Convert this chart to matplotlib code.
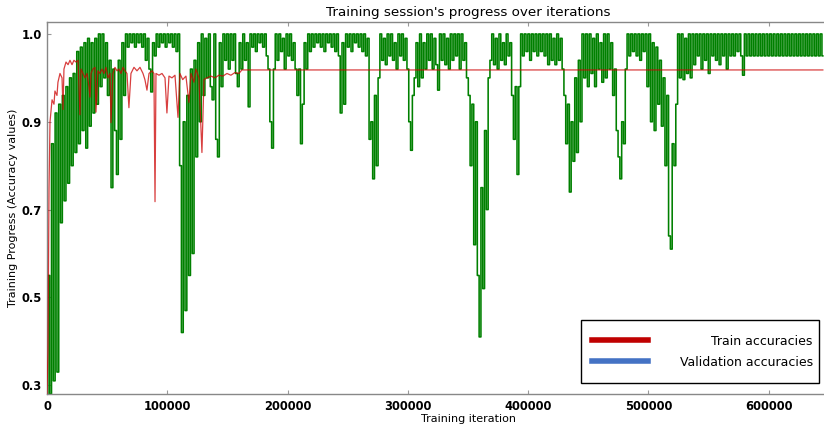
import numpy as np
import matplotlib
matplotlib.use("Agg")
import matplotlib.pyplot as plt
from matplotlib.lines import Line2D

# Per-step batch accuracy, logged every 1500 training iterations
step_interval = 1500
batch_acc = [
    0.26, 0.55, 0.28, 0.85, 0.31, 0.91, 0.33, 0.92, 0.67, 0.93,
    0.72, 0.94, 0.76, 0.95, 0.80, 0.955, 0.83, 0.98, 0.85, 0.985,
    0.88, 0.99, 0.84, 0.995, 0.89, 0.99, 0.91, 0.995, 0.92, 1.0,
    0.94, 1.0, 0.95, 0.99, 0.93, 0.97, 0.75, 0.96, 0.88, 0.78,
    0.97, 0.86, 0.99, 0.93, 1.0, 0.985, 1.0, 0.99, 1.0, 0.985,
    1.0, 0.99, 1.0, 0.985, 1.0, 0.97, 0.995, 0.96, 0.934, 0.99,
    0.975, 1.0, 0.985, 1.0, 0.99, 1.0, 0.985, 1.0, 0.99, 1.0,
    0.985, 1.0, 0.98, 1.0, 0.80, 0.42, 0.90, 0.47, 0.93, 0.55,
    0.96, 0.60, 0.97, 0.82, 0.99, 0.90, 1.0, 0.93, 0.995, 0.95,
    1.0, 0.94, 0.925, 1.0, 0.86, 0.82, 0.99, 0.94, 1.0, 0.97,
    1.0, 0.96, 1.0, 0.97, 1.0, 0.955, 0.94, 0.99, 0.96, 1.0,
    0.97, 0.99, 0.917, 1.0, 0.985, 1.0, 0.98, 1.0, 0.99, 1.0,
    0.985, 1.0, 0.975, 0.96, 0.90, 0.84, 0.96, 1.0, 0.97, 1.0,
    0.98, 0.995, 0.96, 1.0, 0.975, 1.0, 0.97, 0.99, 0.96, 0.93,
    0.96, 0.85, 0.92, 0.99, 0.96, 1.0, 0.98, 1.0, 0.985, 1.0,
    0.99, 1.0, 0.985, 1.0, 0.98, 1.0, 0.99, 1.0, 0.985, 1.0,
    0.98, 1.0, 0.975, 0.91, 0.99, 0.92, 1.0, 0.985, 1.0, 0.98,
    1.0, 0.99, 1.0, 0.985, 1.0, 0.98, 1.0, 0.975, 0.995, 0.86,
    0.90, 0.77, 0.93, 0.80, 0.95, 1.0, 0.97, 0.995, 0.965, 1.0,
    0.975, 1.0, 0.97, 0.99, 0.96, 1.0, 0.975, 1.0, 0.97, 0.995,
    0.96, 0.90, 0.835, 0.93, 0.95, 0.99, 0.94, 1.0, 0.95, 0.99,
    0.96, 1.0, 0.97, 1.0, 0.96, 0.995, 0.965, 0.936, 1.0, 0.97,
    1.0, 0.965, 0.995, 0.96, 1.0, 0.97, 1.0, 0.975, 1.0, 0.96,
    1.0, 0.97, 0.99, 0.95, 0.93, 0.80, 0.92, 0.62, 0.90, 0.55,
    0.41, 0.75, 0.52, 0.88, 0.70, 0.95, 0.97, 1.0, 0.965, 0.995,
    0.96, 1.0, 0.97, 0.99, 0.965, 1.0, 0.975, 0.99, 0.93, 0.86,
    0.94, 0.78, 0.94, 1.0, 0.975, 1.0, 0.98, 1.0, 0.97, 1.0,
    0.98, 1.0, 0.975, 1.0, 0.98, 1.0, 0.975, 1.0, 0.965, 1.0,
    0.97, 0.995, 0.965, 1.0, 0.97, 0.995, 0.96, 0.93, 0.85, 0.92,
    0.74, 0.90, 0.81, 0.95, 0.83, 0.97, 0.90, 1.0, 0.95, 1.0,
    0.94, 1.0, 0.955, 0.995, 0.94, 1.0, 0.96, 0.99, 0.945, 1.0,
    0.95, 1.0, 0.96, 0.99, 0.93, 0.96, 0.88, 0.82, 0.77, 0.90,
    0.85, 0.96, 1.0, 0.975, 1.0, 0.98, 1.0, 0.975, 1.0, 0.97,
    1.0, 0.98, 1.0, 0.94, 1.0, 0.90, 0.99, 0.88, 0.985, 0.92,
    0.97, 0.89, 0.95, 0.80, 0.93, 0.64, 0.61, 0.85, 0.80, 0.92,
    1.0, 0.95, 1.0, 0.948, 0.995, 0.955, 1.0, 0.95, 1.0, 0.965,
    1.0, 0.975, 1.0, 0.96, 1.0, 0.97, 1.0, 0.955, 1.0, 0.975,
    1.0, 0.97, 1.0, 0.965, 1.0, 0.975, 1.0, 0.96, 1.0, 0.975,
    1.0, 0.975, 1.0, 0.98, 1.0, 0.975, 0.953, 1.0, 0.975, 1.0,
    0.975, 1.0, 0.975, 1.0, 0.975, 1.0, 0.975, 1.0, 0.975, 1.0,
    0.975, 1.0, 0.975, 1.0, 0.975, 1.0, 0.975, 1.0, 0.975, 1.0,
    0.975, 1.0, 0.975, 1.0, 0.975, 1.0, 0.975, 1.0, 0.975, 1.0,
    0.975, 1.0, 0.975, 1.0, 0.975, 1.0, 0.975, 1.0, 0.975, 1.0,
    0.975,
]
batch_iters = np.arange(len(batch_acc)) * step_interval

# Smoothed accuracy curve (iteration, value)
smooth_iters = [
    0, 800, 1700, 2500, 4200, 5800, 6600, 8300, 9100, 10800,
    12500, 13300, 14100, 15800, 17500, 19100, 20800, 22400, 24100, 25800,
    27400, 28300, 29900, 31600, 33200, 34900, 35700, 36600, 38200, 39900,
    40700, 42400, 44000, 45700, 47400, 49000, 50700, 52400, 53200, 54800,
    56500, 58200, 59800, 61500, 63200, 64800, 66500, 68100, 69800, 72300,
    74800, 77300, 79800, 81400, 83100, 84800, 87300, 88900, 89800, 90600,
    93100, 95600, 98100, 99700, 101400, 103900, 106400, 108900, 110500, 112800,
    115500, 118000, 119700, 122200, 123800, 126300, 128800, 130500, 133000, 136300,
    139600, 142900, 146300, 149600, 152900, 156200, 159600, 162000, 645000,
]
smooth_acc = [
    0.28, 0.38, 0.75, 0.90, 0.925, 0.92, 0.935, 0.93, 0.945, 0.955,
    0.95, 0.914, 0.96, 0.968, 0.965, 0.97, 0.965, 0.97, 0.968, 0.97,
    0.908, 0.96, 0.955, 0.95, 0.955, 0.94, 0.928, 0.955, 0.96, 0.962,
    0.911, 0.958, 0.955, 0.96, 0.955, 0.962, 0.95, 0.955, 0.898, 0.955,
    0.962, 0.958, 0.96, 0.955, 0.962, 0.958, 0.955, 0.916, 0.955, 0.962,
    0.958, 0.962, 0.955, 0.948, 0.936, 0.955, 0.958, 0.955, 0.718, 0.955,
    0.953, 0.955, 0.95, 0.91, 0.952, 0.95, 0.953, 0.905, 0.955, 0.948,
    0.952, 0.922, 0.955, 0.945, 0.96, 0.95, 0.83, 0.948, 0.95, 0.952,
    0.95, 0.953, 0.952, 0.955, 0.953, 0.956, 0.955, 0.959, 0.959,
]

legend_labels = ["Train accuracies", "Validation accuracies"]
legend_colors = ["#c00000", "#4472c4"]
y_ticks = [0.3, 0.5, 0.7, 0.9, 1.0]
x_ticks = [0, 100000, 200000, 300000, 400000, 500000, 600000]


# Accuracy axis: 0.3-0.9 compressed, 0.9-1.0 expanded (equal spacing per tick)
def acc_forward(v):
    v = np.asarray(v, dtype=float)
    return np.where(v < 0.9, (v - 0.3) / 0.2, 3.0 + (v - 0.9) / 0.1)


def acc_inverse(t):
    t = np.asarray(t, dtype=float)
    return np.where(t < 3.0, 0.3 + 0.2 * t, 0.9 + 0.1 * (t - 3.0))


W, H = 824, 426
fig = plt.figure(figsize=(W / 100, H / 100), dpi=100)
# the axes run on past the right edge of the canvas
ax = fig.add_axes([47 / W, 1 - 394 / H, 842 / W, 372 / H])

ax.plot(batch_iters, batch_acc, color="#008000", lw=1.15,
        drawstyle="steps-mid", snap=False, zorder=2)
ax.plot(smooth_iters, smooth_acc, color=(0.8, 0.0, 0.0), alpha=0.75, lw=0.9, zorder=3)

ax.set_yscale("function", functions=(acc_forward, acc_inverse))
ax.set_ylim(0.28, 1.0136)
ax.set_xlim(0, 700000)
ax.set_yticks(y_ticks)
ax.set_yticklabels([f"{v:.1f}" for v in y_ticks])
ax.set_xticks(x_ticks)
ax.set_xticklabels([str(v) for v in x_ticks])
ax.yaxis.set_minor_locator(matplotlib.ticker.NullLocator())

for lab in ax.get_xticklabels() + ax.get_yticklabels():
    lab.set_fontweight("bold")
    lab.set_fontsize(8.3)
ax.tick_params(direction="in", top=True, right=True, length=3, color="#999999", pad=4)

for sp in ax.spines.values():
    sp.set_color("#888888")
    sp.set_linewidth(1.0)

ax.set_title("Training session's progress over iterations", fontsize=9.7, pad=4)
ax.set_xlabel("Training iteration", fontsize=8, labelpad=1)
ax.set_ylabel("Training Progress (Accuracy values)", fontsize=8, labelpad=2)

legend_fs = 9
handles = [Line2D([], [], color=c, lw=4) for c in legend_colors]
leg = fig.legend(handles, legend_labels, loc="lower right",
                 bbox_to_anchor=(819 / W, 1 - 383 / H), borderaxespad=0,
                 fontsize=legend_fs, handlelength=4.5, handletextpad=2.1, borderpad=0.9,
                 handleheight=2.1, labelspacing=0.05,
                 fancybox=False, framealpha=1, edgecolor="black")
leg.get_frame().set_linewidth(1.0)

# centre the handle lines on their labels
for line in leg.legend_handles:
    line.set_ydata(np.full_like(np.asarray(line.get_ydata(), float), 0.36 * legend_fs))

# right-align the legend labels, close to the right border
fig.canvas.draw()
renderer = fig.canvas.get_renderer()
widths = [t.get_window_extent(renderer).width for t in leg.get_texts()]
for t, w in zip(leg.get_texts(), widths):
    t.set_position((max(widths) - w + 5, 0))

fig.savefig("out.png", dpi=100)
